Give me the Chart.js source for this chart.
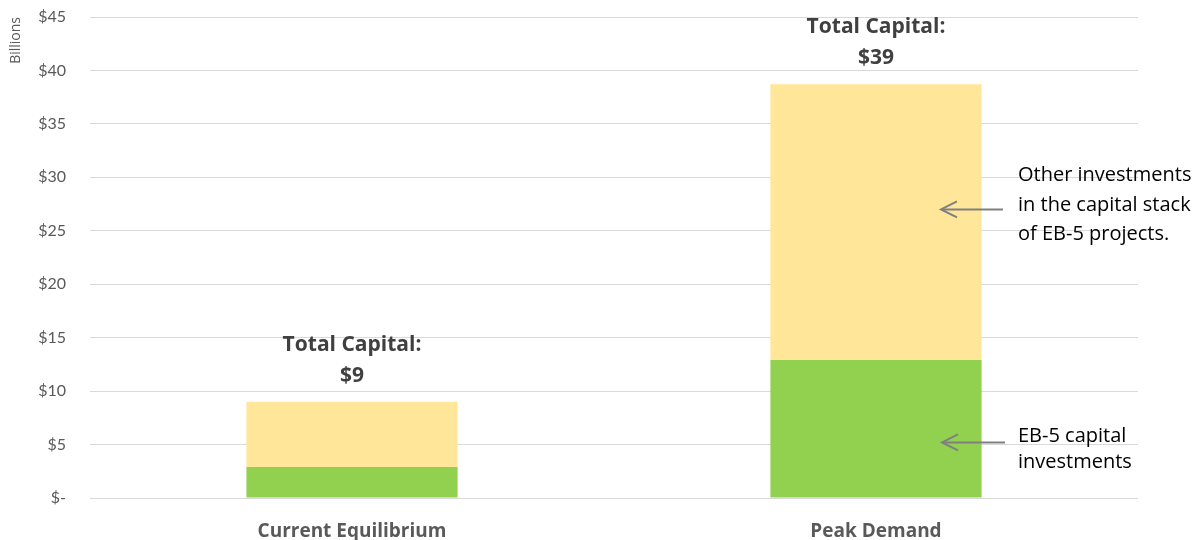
<!DOCTYPE html>
<html>
<head>
<meta charset="utf-8">
<script src="https://cdn.jsdelivr.net/npm/chart.js@4.4.1/dist/chart.umd.min.js"></script>
<style>
html,body{margin:0;padding:0;background:#fff;}
#wrap{width:1198px;height:540px;}
</style>
</head>
<body>
<div id="wrap"><canvas id="c" width="1198" height="540"></canvas></div>
<script>
const categories = ['Current Equilibrium', 'Peak Demand'];
const eb5Capital = [2.9, 12.9];
const otherInvestments = [6.1, 25.8];
const totalLabels = ['$9', '$39'];
const yTicks = [0, 5, 10, 15, 20, 25, 30, 35, 40, 45];
const noteOther = ['Other investments', 'in the capital stack', 'of EB-5 projects.'];
const noteEb5 = ['EB-5 capital', 'investments'];

const FONT = 'Lato, "Open Sans", sans-serif';
const FONT2 = '"Open Sans", Lato, sans-serif';

const annotations = {
  id: 'annotations',
  afterDatasetsDraw(chart) {
    const ctx = chart.ctx;
    const x = chart.scales.x, y = chart.scales.y;
    ctx.save();
    ctx.fillStyle = '#404040';
    ctx.font = 'bold 21px ' + FONT2;
    ctx.textAlign = 'center';
    ctx.textBaseline = 'middle';
    categories.forEach((c, i) => {
      const cx = x.getPixelForValue(i);
      const top = y.getPixelForValue(eb5Capital[i] + otherInvestments[i]);
      ctx.fillText('Total Capital:', cx, top - 57);
      ctx.fillText(totalLabels[i], cx, top - 26);
    });
    const bx = x.getPixelForValue(1);
    const arrow = (x1, x2, yy) => {
      ctx.strokeStyle = '#808080';
      ctx.lineWidth = 2;
      ctx.beginPath();
      ctx.moveTo(x1, yy); ctx.lineTo(x2 + 2, yy); ctx.stroke();
      ctx.beginPath();
      ctx.moveTo(x2 + 17, yy - 8); ctx.lineTo(x2 + 1, yy); ctx.lineTo(x2 + 17, yy + 8);
      ctx.stroke();
    };
    ctx.font = '20px ' + FONT2;
    ctx.fillStyle = '#000';
    ctx.textAlign = 'left';
    const tx = bx + 142;
    const yOther = y.getPixelForValue(27);
    noteOther.forEach((t, k) => ctx.fillText(t, tx, yOther - 34 + k * 29.5));
    arrow(bx + 127, bx + 64, yOther);
    const yEb = y.getPixelForValue(5.2);
    noteEb5.forEach((t, k) => ctx.fillText(t, tx, yEb - 6 + k * 26));
    arrow(bx + 129, bx + 65, yEb);
    ctx.restore();
  }
};

new Chart(document.getElementById('c'), {
  type: 'bar',
  data: {
    labels: categories,
    datasets: [
      { label: 'EB-5 capital investments', data: eb5Capital, backgroundColor: '#92d050' },
      { label: 'Other investments', data: otherInvestments, backgroundColor: '#ffe699' }
    ]
  },
  options: {
    responsive: false,
    animation: false,
    devicePixelRatio: 1,
    layout: { padding: { left: 0, right: 60, top: 17, bottom: 0 } },
    plugins: { legend: { display: false }, tooltip: { enabled: false } },
    datasets: { bar: { categoryPercentage: 1, barPercentage: 0.403 } },
    scales: {
      x: {
        stacked: true,
        grid: { display: false },
        border: { display: false },
        ticks: { color: '#595959', font: { family: FONT2, size: 19, weight: 'bold' }, padding: 14 },
        afterFit: s => { s.height = 42; s.paddingLeft = 0; s.paddingRight = 0; }
      },
      y: {
        stacked: true,
        min: 0, max: 45,
        afterBuildTicks: s => { s.ticks = yTicks.map(v => ({ value: v })); },
        grid: { color: '#d9d9d9', lineWidth: 1, drawTicks: false },
        border: { display: false },
        ticks: {
          color: '#595959',
          font: { family: FONT, size: 16 },
          padding: 24,
          callback: v => v === 0 ? '$-' : '$' + v
        },
        title: {
          display: true, text: 'Billions', align: 'end',
          color: '#595959', font: { family: FONT2, size: 14 }, padding: { top: 8, bottom: 0 }
        },
        afterFit: s => { s.width = 90; s.paddingTop = 0; s.paddingBottom = 0; }
      }
    }
  },
  plugins: [annotations]
});
</script>
</body>
</html>
